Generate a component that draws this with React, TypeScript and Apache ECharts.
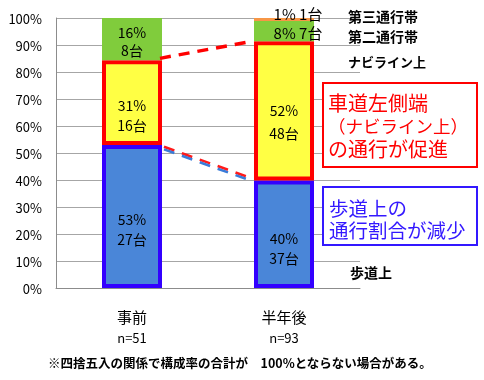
import React, { useEffect, useRef } from "react";
import * as echarts from "echarts";

const categories = ["事前", "半年後"];
const sampleSizes = [51, 93];
const sidewalkCounts = [27, 37]; // 歩道上
const naviLineCounts = [16, 48]; // ナビライン上
const secondLaneCounts = [8, 7]; // 第二通行帯
const thirdLaneCounts = [0, 1]; // 第三通行帯
const yMax = 100;
const yInterval = 10;

const FONT = '"Noto Sans CJK JP", "Noto Sans", sans-serif';

export default function App() {
  const ref = useRef<HTMLDivElement>(null);

  useEffect(() => {
    document.body.style.margin = "0";
    const chart = echarts.init(ref.current!, null, { renderer: "svg" });
    const share = (counts: number[]) => counts.map((c, i) => (c / sampleSizes[i]) * 100);
    const sidewalk = share(sidewalkCounts);
    const navi = share(naviLineCounts);
    const second = share(secondLaneCounts);
    const third = share(thirdLaneCounts);

    const barWidth = 60;
    const borderW = 4;
    const labelBase = { show: true, position: "inside", color: "#000", fontFamily: FONT, fontSize: 14 };

    chart.setOption({
      animation: false,
      grid: { left: 56, right: 124, top: 18, bottom: 92 },
      xAxis: {
        type: "category",
        data: categories,
        axisLine: { lineStyle: { color: "#8c8c8c" } },
        axisTick: { length: 5, lineStyle: { color: "#8c8c8c" } },
        axisLabel: {
          margin: 18,
          formatter: (v: string, i: number) => `{a|${v}}\n{b|n=${sampleSizes[i]}}`,
          rich: {
            a: { fontFamily: FONT, fontSize: 15, color: "#000", lineHeight: 21 },
            b: { fontFamily: FONT, fontSize: 13, color: "#000", lineHeight: 21 },
          },
        },
      },
      yAxis: {
        type: "value",
        min: 0,
        max: yMax,
        interval: yInterval,
        axisLine: { show: true, lineStyle: { color: "#8c8c8c" } },
        axisTick: { show: false },
        splitLine: { lineStyle: { color: "#a6a6a6" } },
        axisLabel: { formatter: "{value}%", fontFamily: FONT, fontSize: 13, color: "#000", margin: 14 },
      },
      series: [
        {
          name: "歩道上",
          type: "bar",
          stack: "s",
          barWidth,
          data: [
            { value: sidewalk[0], label: { offset: [0, 12] } },
            { value: sidewalk[1], label: { offset: [0, 14] } },
          ],
          itemStyle: { color: "#4a86d8", borderColor: "#3300ff", borderWidth: borderW },
          label: {
            ...labelBase,
            lineHeight: 20,
            formatter: (p: any) => `${Math.round(p.value)}%\n${sidewalkCounts[p.dataIndex]}台`,
          },
        },
        {
          name: "ナビライン上",
          type: "bar",
          stack: "s",
          barWidth,
          data: [
            { value: navi[0], label: { offset: [0, 12] } },
            { value: navi[1], label: { offset: [0, 11], lineHeight: 23 } },
          ],
          itemStyle: { color: "#ffff44", borderColor: "#ff0000", borderWidth: borderW },
          label: {
            ...labelBase,
            lineHeight: 20,
            formatter: (p: any) => `${Math.round(p.value)}%\n${naviLineCounts[p.dataIndex]}台`,
          },
        },
        {
          name: "第二通行帯",
          type: "bar",
          stack: "s",
          barWidth,
          data: [
            { value: second[0], label: { offset: [0, 2], lineHeight: 18 } },
            { value: second[1], label: { offset: [14, 1], fontSize: 15, lineHeight: 15 } },
          ],
          itemStyle: { color: "#80cc3c" },
          label: {
            ...labelBase,
            formatter: (p: any) =>
              p.dataIndex === 0
                ? `${Math.round(p.value)}%\n${secondLaneCounts[p.dataIndex]}台`
                : `${Math.round(p.value)}% ${secondLaneCounts[p.dataIndex]}台`,
          },
        },
        {
          name: "第三通行帯",
          type: "bar",
          stack: "s",
          barWidth,
          data: [
            { value: third[0], label: { show: false } },
            { value: third[1], label: { offset: [14, -6], fontSize: 15, lineHeight: 15 } },
          ],
          itemStyle: { color: "#f79646" },
          label: {
            ...labelBase,
            formatter: (p: any) => `${Math.round(p.value)}% ${thirdLaneCounts[p.dataIndex]}台`,
          },
        },
      ],
    });

    const px = (ci: number, v: number) =>
      chart.convertToPixel({ xAxisIndex: 0, yAxisIndex: 0 }, [ci, v]) as number[];
    const half = barWidth / 2 + borderW / 2;
    const top0 = px(0, sidewalk[0] + navi[0]);
    const top1 = px(1, sidewalk[1] + navi[1]);
    const j0 = px(0, sidewalk[0]);
    const j1 = px(1, sidewalk[1]);
    const dash = { lineDash: [11, 8] };

    const lx1 = j0[0] + half;
    const ly1 = j0[1] + 3;
    const lx2 = j1[0] - half - 6;
    const ly2 = j1[1] - 3;

    const text = (t: string, x: number, y: number, size: number, color: string, weight = "normal") => ({
      type: "text",
      x,
      y,
      z: 10,
      style: {
        text: t,
        fill: color,
        font: `${weight} ${size}px ${FONT}`,
        textAlign: "left",
        textVerticalAlign: "middle",
      },
    });

    chart.setOption({
      graphic: [
        {
          type: "line",
          z: 5,
          shape: { x1: top0[0] + half - 4, y1: top0[1] - 2, x2: top1[0] - half, y2: top1[1] },
          style: { stroke: "#ff0000", lineWidth: 3.5, ...dash },
        },
        {
          type: "line",
          z: 5,
          shape: { x1: lx1, y1: ly1 - 1.3, x2: lx2, y2: ly2 - 1.3 },
          style: { stroke: "#ff1a1a", lineWidth: 2.6, ...dash },
        },
        {
          type: "line",
          z: 5,
          shape: { x1: lx1, y1: ly1 + 1.3, x2: lx2, y2: ly2 + 1.3 },
          style: { stroke: "#3a7bd8", lineWidth: 2.6, ...dash },
        },
        text("第三通行帯", 348, 16, 14, "#000", "bold"),
        text("第二通行帯", 348, 36, 14, "#000", "bold"),
        text("ナビライン上", 348, 61, 13, "#000", "bold"),
        text("歩道上", 350, 272, 14, "#000", "bold"),
        {
          type: "rect",
          z: 8,
          shape: { x: 323, y: 83, width: 154, height: 84 },
          style: { fill: "#fff", stroke: "#ff0000", lineWidth: 2 },
        },
        {
          type: "text",
          x: 328,
          y: 125,
          z: 10,
          style: {
            text: "{a|車道左側端}\n{b|（ナビライン上）}\n{a|の通行が促進}",
            textAlign: "left",
            textVerticalAlign: "middle",
            rich: {
              a: { fontFamily: FONT, fontSize: 20, lineHeight: 23, fill: "#ff0000", color: "#ff0000" },
              b: { fontFamily: FONT, fontSize: 17.5, lineHeight: 23, fill: "#ff0000", color: "#ff0000" },
            },
          },
        },
        {
          type: "rect",
          z: 8,
          shape: { x: 323, y: 187, width: 154, height: 58 },
          style: { fill: "#fff", stroke: "#3318ff", lineWidth: 2 },
        },
        {
          type: "text",
          x: 329,
          y: 218,
          z: 10,
          style: {
            text: "歩道上の\n通行割合が減少",
            fill: "#3318ff",
            font: `normal 19.5px ${FONT}`,
            lineHeight: 22,
            textAlign: "left",
            textVerticalAlign: "middle",
          },
        },
        text("※四捨五入の関係で構成率の合計が　100%とならない場合がある。", 48, 362, 12.5, "#000", "bold"),
      ],
    });

    return () => chart.dispose();
  }, []);

  return <div ref={ref} style={{ position: "fixed", left: 0, top: 0, width: 484, height: 380 }} />;
}
